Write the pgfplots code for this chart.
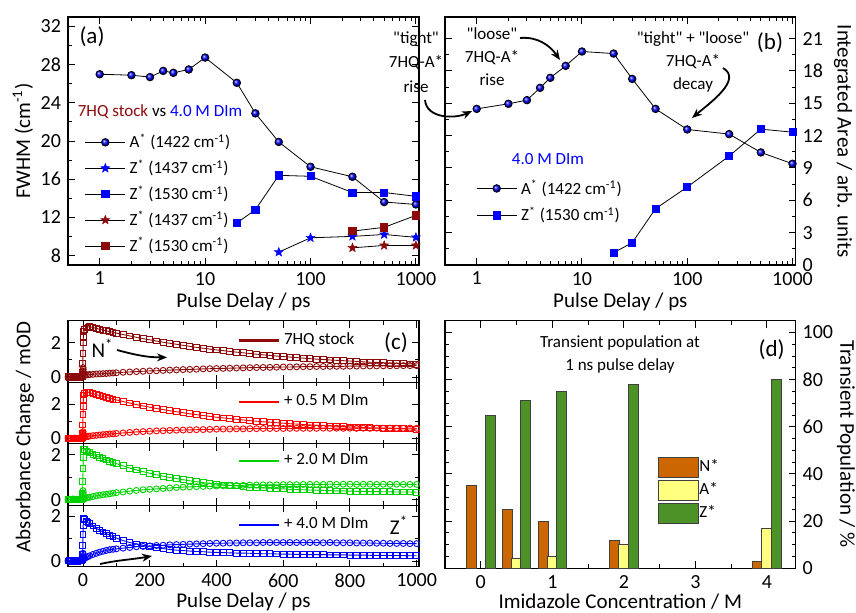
\documentclass[border=0pt]{standalone}
\usepackage{fontspec}
\setmainfont{Carlito}[Ligatures=TeXReset]
\usepackage{pgfplots}
\usepackage{pgfplotstable}
\pgfplotsset{compat=1.18}
\usetikzlibrary{arrows.meta}

\definecolor{dred}{RGB}{140,10,10}
\definecolor{cred}{RGB}{255,0,0}
\definecolor{cgreen}{RGB}{0,210,0}
\definecolor{cblue}{RGB}{0,0,255}
\definecolor{nstar}{RGB}{204,102,0}
\definecolor{astar}{RGB}{255,255,128}
\definecolor{zstar}{RGB}{76,146,38}
\newcommand{\q}{\symbol{34}}

% filled five-pointed star
\pgfdeclareplotmark{fstar}{%
  \pgfpathmoveto{\pgfpointpolar{90}{\pgfplotmarksize}}%
  \pgfpathlineto{\pgfpointpolar{126}{0.42\pgfplotmarksize}}%
  \pgfpathlineto{\pgfpointpolar{162}{\pgfplotmarksize}}%
  \pgfpathlineto{\pgfpointpolar{198}{0.42\pgfplotmarksize}}%
  \pgfpathlineto{\pgfpointpolar{234}{\pgfplotmarksize}}%
  \pgfpathlineto{\pgfpointpolar{270}{0.42\pgfplotmarksize}}%
  \pgfpathlineto{\pgfpointpolar{306}{\pgfplotmarksize}}%
  \pgfpathlineto{\pgfpointpolar{342}{0.42\pgfplotmarksize}}%
  \pgfpathlineto{\pgfpointpolar{18}{\pgfplotmarksize}}%
  \pgfpathlineto{\pgfpointpolar{54}{0.42\pgfplotmarksize}}%
  \pgfpathclose\pgfusepathqfillstroke}

% kinetic traces (c): t / ps, decaying band d, rising band r
\pgfplotstableread{
t d r
-45 0.02 0.01
-40 -0.01 0.03
-35 0.03 0.00
-30 0.00 0.02
-25 0.02 -0.01
-20 0.01 0.02
-15 0.03 0.01
-10 0.00 0.03
-5 0.02 0.02
-2 0.05 0.06
-1 0.30 0.15
-0.5 0.80 0.35
0 1.40 0.55
0.5 2.00 0.45
1 2.40 0.30
2 2.65 0.18
5 2.78 0.12
10 2.88 0.13
15 2.93 0.13
20 2.95 0.15
30 2.90 0.16
40 2.85 0.18
50 2.80 0.19
60 2.75 0.20
70 2.71 0.21
80 2.66 0.23
90 2.62 0.24
100 2.57 0.25
120 2.49 0.28
140 2.41 0.30
160 2.33 0.32
180 2.25 0.34
200 2.18 0.36
220 2.11 0.37
240 2.04 0.39
260 1.98 0.41
280 1.92 0.42
300 1.86 0.44
320 1.80 0.45
340 1.74 0.46
360 1.69 0.48
380 1.64 0.49
400 1.59 0.50
420 1.55 0.51
440 1.50 0.52
460 1.46 0.53
480 1.42 0.54
500 1.38 0.55
520 1.34 0.56
540 1.30 0.56
560 1.27 0.57
580 1.23 0.58
600 1.20 0.59
620 1.17 0.59
640 1.14 0.60
660 1.11 0.61
680 1.08 0.61
700 1.05 0.62
720 1.03 0.62
740 1.00 0.63
760 0.98 0.63
780 0.96 0.63
800 0.94 0.64
820 0.92 0.64
840 0.89 0.65
860 0.87 0.65
880 0.86 0.65
900 0.84 0.66
920 0.82 0.66
940 0.81 0.66
960 0.79 0.67
980 0.77 0.67
1000 0.76 0.67
}\tabStock

\pgfplotstableread{
t d r
-45 0.01 0.02
-40 0.03 0.00
-35 0.00 0.02
-30 0.02 0.01
-25 -0.01 0.03
-20 0.02 0.00
-15 0.01 0.02
-10 0.03 0.01
-5 0.02 0.03
-2 0.06 0.05
-1 0.30 0.10
-0.5 0.80 0.25
0 1.40 0.40
0.5 1.90 0.30
1 2.30 0.20
2 2.55 0.12
5 2.65 0.10
10 2.72 0.11
15 2.72 0.13
20 2.68 0.15
30 2.62 0.17
40 2.57 0.19
50 2.52 0.21
60 2.46 0.23
70 2.41 0.25
80 2.36 0.27
90 2.31 0.28
100 2.26 0.30
120 2.17 0.33
140 2.08 0.36
160 1.99 0.39
180 1.91 0.41
200 1.84 0.43
220 1.76 0.45
240 1.70 0.46
260 1.63 0.48
280 1.57 0.49
300 1.51 0.50
320 1.45 0.51
340 1.40 0.52
360 1.35 0.53
380 1.30 0.54
400 1.25 0.55
420 1.21 0.56
440 1.17 0.56
460 1.13 0.57
480 1.09 0.57
500 1.05 0.58
520 1.02 0.58
540 0.98 0.59
560 0.96 0.59
580 0.93 0.59
600 0.90 0.59
620 0.87 0.60
640 0.85 0.60
660 0.82 0.60
680 0.80 0.60
700 0.78 0.60
720 0.75 0.61
740 0.74 0.60
760 0.72 0.61
780 0.70 0.60
800 0.68 0.61
820 0.67 0.60
840 0.65 0.61
860 0.63 0.60
880 0.62 0.61
900 0.61 0.60
920 0.60 0.61
940 0.58 0.60
960 0.57 0.60
980 0.56 0.61
1000 0.55 0.60
}\tabHalf

\pgfplotstableread{
t d r
-45 0.02 0.01
-40 0.00 0.02
-35 0.03 0.00
-30 0.01 0.03
-25 0.02 0.01
-20 0.00 0.02
-15 0.03 0.00
-10 0.01 0.02
-5 0.02 0.03
-2 0.06 0.05
-1 0.30 0.10
-0.5 0.80 0.25
0 1.40 0.40
0.5 1.90 0.30
1 2.15 0.18
2 2.25 0.08
5 2.24 0.05
10 2.18 0.07
15 2.13 0.09
20 2.10 0.11
30 2.03 0.14
40 1.96 0.17
50 1.89 0.20
60 1.83 0.22
70 1.77 0.24
80 1.72 0.26
90 1.66 0.29
100 1.61 0.31
120 1.51 0.34
140 1.41 0.38
160 1.33 0.41
180 1.25 0.44
200 1.18 0.46
220 1.11 0.48
240 1.05 0.50
260 0.99 0.52
280 0.94 0.54
300 0.89 0.56
320 0.84 0.57
340 0.80 0.58
360 0.76 0.59
380 0.73 0.60
400 0.69 0.61
420 0.66 0.62
440 0.64 0.63
460 0.61 0.63
480 0.59 0.64
500 0.56 0.65
520 0.54 0.65
540 0.52 0.66
560 0.51 0.66
580 0.49 0.66
600 0.48 0.67
620 0.46 0.67
640 0.45 0.67
660 0.44 0.68
680 0.43 0.68
700 0.42 0.68
720 0.41 0.68
740 0.40 0.69
760 0.39 0.68
780 0.39 0.69
800 0.38 0.69
820 0.37 0.68
840 0.37 0.69
860 0.36 0.69
880 0.36 0.68
900 0.35 0.69
920 0.35 0.68
940 0.34 0.69
960 0.34 0.68
980 0.34 0.68
1000 0.33 0.68
}\tabTwo

\pgfplotstableread{
t d r
-45 0.01 0.02
-40 0.02 0.00
-35 0.00 0.03
-30 0.03 0.01
-25 0.01 0.02
-20 0.02 0.00
-15 0.00 0.03
-10 0.02 0.01
-5 0.03 0.02
-2 0.06 0.05
-1 0.30 0.10
-0.5 0.70 0.20
0 1.20 0.35
0.5 1.60 0.25
1 1.85 0.15
2 1.90 0.10
5 1.85 0.12
10 1.78 0.17
15 1.72 0.20
20 1.67 0.24
30 1.57 0.30
40 1.47 0.35
50 1.38 0.40
60 1.30 0.44
70 1.23 0.48
80 1.16 0.51
90 1.09 0.53
100 1.03 0.55
120 0.92 0.58
140 0.83 0.61
160 0.77 0.64
180 0.70 0.66
200 0.65 0.68
220 0.60 0.70
240 0.56 0.71
260 0.52 0.73
280 0.49 0.74
300 0.47 0.75
320 0.45 0.76
340 0.43 0.77
360 0.42 0.78
380 0.40 0.79
400 0.39 0.80
420 0.38 0.80
440 0.37 0.81
460 0.36 0.81
480 0.36 0.82
500 0.35 0.82
520 0.34 0.82
540 0.33 0.83
560 0.33 0.83
580 0.32 0.83
600 0.31 0.83
620 0.31 0.83
640 0.30 0.83
660 0.30 0.83
680 0.29 0.83
700 0.29 0.83
720 0.29 0.82
740 0.28 0.83
760 0.28 0.82
780 0.28 0.82
800 0.27 0.82
820 0.27 0.81
840 0.27 0.81
860 0.26 0.81
880 0.26 0.80
900 0.26 0.80
920 0.25 0.79
940 0.25 0.79
960 0.25 0.79
980 0.24 0.78
1000 0.24 0.78
}\tabFour

\pgfplotsset{
  panel/.style={
    scale only axis, anchor=south west,
    tick align=inside,
    axis line style={line width=0.6pt},
    every tick/.style={black, line width=0.5pt},
    major tick length=3.5pt, minor tick length=2pt,
    tick label style={font=\fontsize{10}{12}\selectfont},
    label style={font=\fontsize{10.5}{12.5}\selectfont},
    legend cell align=left,
    legend style={draw=none, fill=none, font=\fontsize{8.5}{10}\selectfont},
  },
  cpanel/.style={panel, width=175.5pt, height=30.75pt,
    xmin=-45, xmax=1007, xtick={0,200,...,1000}, minor x tick num=1,
    ytick={0,2}, minor y tick num=1,
    legend style={anchor=west, at={(0.465,0.68)}}},
  dec/.style={#1, mark=square, mark size=1.45pt, line width=0.45pt, forget plot},
  ris/.style={#1, mark=o, mark size=1.5pt, line width=0.45pt, forget plot},
}

\begin{document}
\begin{tikzpicture}
\useasboundingbox (0,0) rectangle (428pt,306pt);

% ---------------- (a) FWHM ----------------
\begin{axis}[panel, at={(34pt,173.5pt)}, width=175.5pt, height=124pt,
  xmode=log, xmin=0.5, xmax=1070,
  xtick={1,10,100,1000}, xticklabels={1,10,100,1000},
  xlabel={Pulse Delay / ps}, xlabel style={yshift=3pt},
  ymin=7, ymax=33, ytick={8,12,...,32}, yticklabels={8,12,16,20,24,28,32},
  minor y tick num=1,
  ylabel={FWHM (cm\textsuperscript{-1})}, ylabel style={yshift=-3pt},
  legend image code/.code={\draw[mark repeat=2,mark phase=2,#1]
      plot coordinates {(0pt,0pt) (10pt,0pt) (20pt,0pt)};},
  legend style={at={(0.03,0.563)}, anchor=north west, row sep=0.4pt}]
\addplot[black, line width=0.4pt, mark=ball, mark size=1.9pt, mark options={ball color=cblue}]
  coordinates {(1,27.0)(2,26.9)(3,26.7)(4,27.35)(5,27.15)(7,27.5)(10,28.75)(20,26.1)(30,22.9)(50,19.9)(100,17.3)(250,16.25)(500,13.6)(1000,13.35)};
\addlegendentry{A\textsuperscript{*} (1422 cm\textsuperscript{-1})}
\addplot[black, line width=0.4pt, mark=fstar, mark size=2.4pt, mark options={fill=cblue, draw=cblue, line width=0.2pt}]
  coordinates {(50,8.35)(100,9.85)(250,10.0)(500,10.2)(1000,9.9)};
\addlegendentry{Z\textsuperscript{*} (1437 cm\textsuperscript{-1})}
\addplot[black, line width=0.4pt, mark=square*, mark size=1.8pt, mark options={fill=cblue, draw=cblue}]
  coordinates {(20,11.4)(30,12.8)(50,16.4)(100,16.3)(250,14.6)(500,14.6)(1000,14.2)};
\addlegendentry{Z\textsuperscript{*} (1530 cm\textsuperscript{-1})}
\addplot[black, line width=0.4pt, mark=fstar, mark size=2.4pt, mark options={fill=dred, draw=dred, line width=0.2pt}]
  coordinates {(250,8.8)(500,9.05)(1000,9.05)};
\addlegendentry{Z\textsuperscript{*} (1437 cm\textsuperscript{-1})}
\addplot[black, line width=0.4pt, mark=square*, mark size=1.8pt, mark options={fill=dred, draw=dred}]
  coordinates {(250,10.55)(500,10.95)(1000,12.2)};
\addlegendentry{Z\textsuperscript{*} (1530 cm\textsuperscript{-1})}
\end{axis}

% ---------------- (b) integrated area ----------------
\begin{axis}[panel, at={(222.5pt,173.5pt)}, width=175.3pt, height=124pt,
  xmode=log, xmin=0.5, xmax=1070,
  xtick={1,10,100,1000}, xticklabels={1,10,100,1000},
  xlabel={Pulse Delay / ps}, xlabel style={yshift=3pt},
  ymin=0, ymax=23, ytick={0,3,...,21}, yticklabels={0,3,6,9,12,15,18,21},
  minor y tick num=1, yticklabel pos=right,
  legend image code/.code={\draw[mark repeat=2,mark phase=2,#1]
      plot coordinates {(0pt,0pt) (10pt,0pt) (20pt,0pt)};},
  legend style={at={(0.071,0.377)}, anchor=north west, row sep=0.9pt}]
\addplot[black, line width=0.4pt, mark=ball, mark size=1.9pt, mark options={ball color=cblue}]
  coordinates {(1,14.48)(2,14.95)(3,15.29)(4,16.43)(5,17.36)(7,18.47)(10,19.8)(20,19.61)(30,17.26)(50,14.48)(100,12.57)(250,12.14)(500,10.44)(1000,9.39)};
\addlegendentry{A\textsuperscript{*} (1422 cm\textsuperscript{-1})}
\addplot[black, line width=0.4pt, mark=square*, mark size=1.8pt, mark options={fill=cblue, draw=cblue}]
  coordinates {(20,1.14)(30,2.07)(50,5.22)(100,7.23)(250,10.1)(500,12.6)(1000,12.32)};
\addlegendentry{Z\textsuperscript{*} (1530 cm\textsuperscript{-1})}
\end{axis}

% ---------------- (c) kinetic traces ----------------
\begin{axis}[cpanel, at={(34pt,114.9pt)}, ymin=-0.3, ymax=3.3, xticklabels={},
  yticklabels={0,2}, legend image code/.code={\draw[#1] (0pt,0pt) -- (20pt,0pt);}]
\addplot[dec=dred] table[x=t,y=d]{\tabStock};
\addplot[ris=dred] table[x=t,y=r]{\tabStock};
\addlegendimage{dred, line width=1.2pt}
\addlegendentry{7HQ stock}
\end{axis}
\begin{axis}[cpanel, at={(34pt,84.15pt)}, ymin=-0.3, ymax=3.3, xticklabels={},
  yticklabels={0,2}, legend image code/.code={\draw[#1] (0pt,0pt) -- (20pt,0pt);}]
\addplot[dec=cred] table[x=t,y=d]{\tabHalf};
\addplot[ris=cred] table[x=t,y=r]{\tabHalf};
\addlegendimage{cred, line width=1.2pt}
\addlegendentry{+ 0.5 M DIm}
\end{axis}
\begin{axis}[cpanel, at={(34pt,53.4pt)}, ymin=-0.25, ymax=2.5, xticklabels={},
  yticklabels={0,2}, legend image code/.code={\draw[#1] (0pt,0pt) -- (20pt,0pt);},
  legend style={at={(0.465,0.72)}}]
\addplot[dec=cgreen] table[x=t,y=d]{\tabTwo};
\addplot[ris=cgreen] table[x=t,y=r]{\tabTwo};
\addlegendimage{cgreen, line width=1.2pt}
\addlegendentry{+ 2.0 M DIm}
\end{axis}
\begin{axis}[cpanel, at={(34pt,22.65pt)}, ymin=-0.25, ymax=2.5,
  xticklabels={0,200,400,600,800,1000}, yticklabels={0,2},
  legend image code/.code={\draw[#1] (0pt,0pt) -- (20pt,0pt);},
  xlabel={Pulse Delay / ps}, xlabel style={yshift=4.2pt}]
\addplot[dec=cblue] table[x=t,y=d]{\tabFour};
\addplot[ris=cblue] table[x=t,y=r]{\tabFour};
\addlegendimage{cblue, line width=1.2pt}
\addlegendentry{+ 4.0 M DIm}
\end{axis}

% ---------------- (d) transient population ----------------
\begin{axis}[panel, at={(222.5pt,21.85pt)}, width=175.3pt, height=123.8pt,
  xmin=-0.5, xmax=4.4, ymin=0, ymax=105,
  xtick={0,1,2,3,4}, xticklabels={0,1,2,3,4}, minor x tick num=1,
  ytick={0,20,...,100}, yticklabels={0,20,40,60,80,100}, minor y tick num=3,
  yticklabel pos=right,
  xlabel={Imidazole Concentration / M}, xlabel style={yshift=4.2pt},
  legend style={at={(0.607,0.452)}, anchor=north west, row sep=0.9pt, inner sep=0pt,
    nodes={inner sep=0pt}, /tikz/every even column/.append style={column sep=2pt}}]
\addplot[ybar, bar width=0.14, bar shift=0pt, fill=nstar, draw=black!75, line width=0.5pt, forget plot]
  coordinates {(-0.13,35)(0.37,25)(0.87,20)(1.87,12)(3.87,3)};
\addplot[ybar, bar width=0.14, bar shift=0pt, fill=astar, draw=black!75, line width=0.5pt, forget plot]
  coordinates {(0.5,4)(1,5)(2,10)(4,17)};
\addplot[ybar, bar width=0.14, bar shift=0pt, fill=zstar, draw=black!75, line width=0.5pt, forget plot]
  coordinates {(0.13,65)(0.63,71)(1.13,75)(2.13,78)(4.13,80)};
\addlegendimage{legend image code/.code={\draw[fill=nstar, draw=black!75, line width=0.6pt] (0pt,-5pt) rectangle (20pt,5pt);}}
\addlegendentry{N*}
\addlegendimage{legend image code/.code={\draw[fill=astar, draw=black!75, line width=0.6pt] (0pt,-5pt) rectangle (20pt,5pt);}}
\addlegendentry{A*}
\addlegendimage{legend image code/.code={\draw[fill=zstar, draw=black!75, line width=0.6pt] (0pt,-5pt) rectangle (20pt,5pt);}}
\addlegendentry{Z*}
\end{axis}

% ---------------- labels and annotations ----------------
\begin{scope}[font=\fontsize{8.5}{11.5}\selectfont]
\node at (80pt,250pt) {\textcolor{dred}{7HQ stock} vs \textcolor{cblue}{4.0 M DIm}};
\node at (274pt,226.5pt) {\textcolor{cblue}{4.0 M DIm}};
\node[align=center, font=\fontsize{8.5}{12.3}\selectfont] at (208pt,275pt) {\q tight\q\\7HQ-A*\\rise};
\node[align=center] at (246pt,277.5pt) {\q loose\q\\7HQ-A*\\rise};
\node[align=center] at (346.5pt,275pt) {\q tight\q{} + \q loose\q\\7HQ-A*\\decay};
\node[align=center] at (310pt,128.8pt) {Transient population at\\1 ns pulse delay};
\end{scope}
\begin{scope}[line width=0.9pt, -{Stealth[length=5pt,width=4pt]}]
\draw (212.5pt,256pt) to[out=-85,in=205] (236pt,250.5pt);
\draw (260pt,287pt) to[out=5,in=125] (280pt,276pt);
\draw (361.5pt,272pt) to[out=-30,in=40] (346pt,247pt);
\draw (58.5pt,131pt) to[out=-15,in=180] (83.5pt,127.3pt);
\draw (50pt,24pt) to[out=12,in=190] (76pt,28pt);
\end{scope}
\begin{scope}[font=\fontsize{10.5}{12.5}\selectfont]
\node[font=\fontsize{11.5}{13}\selectfont] at (46pt,287.5pt) {(a)};
\node[font=\fontsize{11.5}{13}\selectfont] at (385pt,284.5pt) {(b)};
\node[font=\fontsize{11.5}{13}\selectfont] at (198pt,134.8pt) {(c)};
\node[font=\fontsize{11.5}{13}\selectfont] at (385.8pt,131pt) {(d)};
\node at (51.3pt,131.8pt) {N\textsuperscript{*}};
\node at (199.5pt,43.3pt) {Z\textsuperscript{*}};
\node[rotate=90] at (12.5pt,87.5pt) {Absorbance Change / mOD};
\node[rotate=-90] at (421.5pt,235.5pt) {Integrated Area / arb. units};
\node[rotate=-90] at (423pt,84pt) {Transient Population / \%};
\end{scope}
\end{tikzpicture}
\end{document}
